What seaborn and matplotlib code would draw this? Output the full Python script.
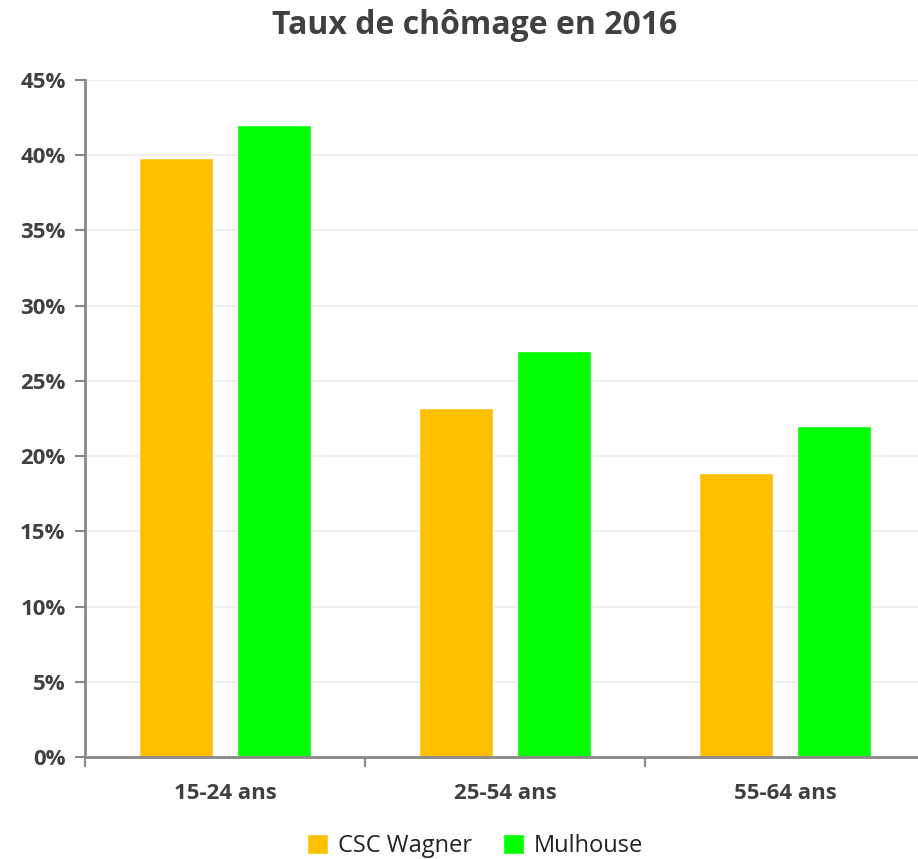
import pandas as pd
import matplotlib.pyplot as plt
import seaborn as sns
from matplotlib.ticker import FuncFormatter, FixedLocator
from matplotlib.patches import Patch

# Data
groups = ["15-24 ans", "25-54 ans", "55-64 ans"]
csc_wagner = [39.8, 23.2, 18.9]
mulhouse = [42.0, 27.0, 22.0]
series = ["CSC Wagner", "Mulhouse"]
colors = ["#FFC000", "#00FF00"]

df = pd.DataFrame({
    "Groupe": groups * 2,
    "Taux": csc_wagner + mulhouse,
    "Zone": [series[0]] * 3 + [series[1]] * 3,
})

sns.set_style("white")
plt.rcParams['font.family'] = ['Open Sans', 'DejaVu Sans']

fig = plt.figure(figsize=(9.18, 8.59), dpi=100)
ax = fig.add_axes([85 / 918, 102 / 859, 840 / 918, 677 / 859])

sns.barplot(data=df, x="Groupe", y="Taux", hue="Zone", palette=colors,
            width=0.7, gap=0.24, saturation=1, legend=False, ax=ax)

ax.set_xlim(-0.5, 2.5)
ax.set_ylim(0, 45)
ax.set_yticks(range(0, 46, 5))
ax.yaxis.set_major_formatter(FuncFormatter(lambda v, p: f"{v:.0f}%"))
ax.grid(axis="y", color="#ececec", linewidth=1.2)
ax.set_axisbelow(True)

for s in ["top", "right"]:
    ax.spines[s].set_visible(False)
for s in ["left", "bottom"]:
    ax.spines[s].set_color("#888888")
    ax.spines[s].set_linewidth(2)

ax.tick_params(axis="y", which="major", left=True, length=7, width=1.5,
               color="#888888", labelsize=16, labelcolor="#404040", pad=7)
ax.tick_params(axis="x", which="major", length=0, labelsize=16,
               labelcolor="#404040", pad=19)
ax.xaxis.set_minor_locator(FixedLocator([-0.5, 0.5, 1.5]))
ax.tick_params(axis="x", which="minor", bottom=True, length=7, width=1.5,
               color="#888888")
for lbl in ax.get_xticklabels() + ax.get_yticklabels():
    lbl.set_fontweight("bold")

ax.set_xlabel("")
ax.set_ylabel("")

fig.suptitle("Taux de chômage en 2016", x=475 / 918, y=1 - 25 / 859,
             va="center", fontsize=23, fontweight="bold", color="#404040")

handles = [Patch(facecolor=c, label=s) for c, s in zip(colors, series)]
fig.legend(handles=handles, loc="center", bbox_to_anchor=(475 / 918, 1 - 846 / 859),
           ncol=2, frameon=False, fontsize=17, handlelength=0.9, handleheight=0.9,
           columnspacing=1.3, handletextpad=0.4, labelcolor="#222222")

fig.savefig("out.png", dpi=100)
